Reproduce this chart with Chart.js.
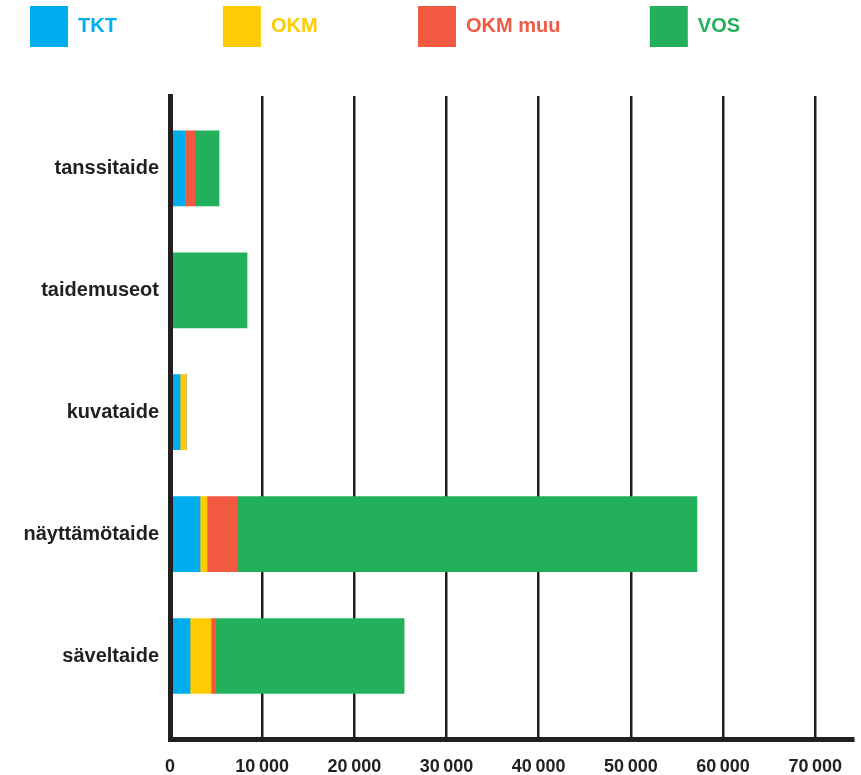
<!DOCTYPE html>
<html>
<head>
<meta charset="utf-8">
<title>Taiteenalat</title>
<script src="https://cdn.jsdelivr.net/npm/chart.js@4.4.1/dist/chart.umd.min.js"></script>
<style>
  body { margin: 0; background: #fff; }
  #wrap { width: 861px; height: 775px; }
</style>
</head>
<body>
<div id="wrap"><canvas id="chart" width="861" height="775"></canvas></div>
<script>
// data
const categories = ['tanssitaide', 'taidemuseot', 'kuvataide', 'näyttämötaide', 'säveltaide'];
const seriesNames = ['TKT', 'OKM', 'OKM muu', 'VOS'];
const tkt    = [1660,    0, 1090,  3260,  2170];
const okm    = [   0,    0,  650,   760,  2280];
const okmMuu = [1050,    0,    0,  3330,   510];
const vos    = [2610, 8360,    0, 49820, 20440];
const xTickValues = [0, 10000, 20000, 30000, 40000, 50000, 60000, 70000];
const xTickLabels = ['0', '10\u2009000', '20\u2009000', '30\u2009000', '40\u2009000', '50\u2009000', '60\u2009000', '70\u2009000'];

const seriesColors = ['#00aeef', '#ffcb05', '#f15a40', '#22b15a'];
const ink = '#231f20';
const fontFamily = 'Liberation Sans, Arial, Helvetica, sans-serif';
const legendStarts = [30, 221, 416, 646];

const seriesValues = [tkt, okm, okmMuu, vos];
const datasets = seriesNames.map((name, i) => ({
  label: name,
  data: seriesValues[i],
  backgroundColor: seriesColors[i],
  borderWidth: 0,
  barThickness: 75,
  xAxisID: 'x',
  yAxisID: 'y'
}));

new Chart(document.getElementById('chart'), {
  type: 'bar',
  data: {
    labels: categories.map((c, i) => i),
    datasets: datasets
  },
  options: {
    indexAxis: 'y',
    responsive: false,
    animation: false,
    layout: { padding: { left: 24, right: 8, top: 0, bottom: 0 } },
    scales: {
      x: {
        type: 'linear',
        position: 'bottom',
        stacked: true,
        bounds: 'data',
        min: 0,
        max: 74100,
        afterBuildTicks: s => { s.ticks = xTickValues.map(v => ({ value: v })); },
        afterFit: s => { s.height = 35.5; },
        grid: { color: ink, lineWidth: 2.5, drawTicks: false },
        border: { color: ink, width: 5 },
        ticks: {
          padding: 17,
          color: ink,
          font: { family: fontFamily, size: 18, weight: 'bold' },
          callback: (v, i) => xTickLabels[i]
        }
      },
      xTop: {
        type: 'linear',
        position: 'top',
        afterFit: s => { s.height = 39; },
        grid: { display: false },
        border: { display: false },
        ticks: { display: false }
      },
      y: {
        type: 'linear',
        position: 'left',
        reverse: true,
        stacked: true,
        offset: false,
        bounds: 'data',
        min: -0.594,
        max: 4.685,
        afterBuildTicks: s => { s.ticks = categories.map((c, i) => ({ value: i })); },
        afterFit: s => { s.width = 146; },
        grid: { display: false, drawTicks: false, offset: false },
        border: { color: ink, width: 5, z: 1 },
        ticks: {
          autoSkip: false,
          padding: 11,
          color: ink,
          font: { family: fontFamily, size: 20, weight: 'bold' },
          callback: v => categories[v]
        }
      }
    },
    plugins: {
      tooltip: { enabled: false },
      legend: {
        position: 'top',
        align: 'start',
        labels: {
          boxWidth: 38,
          boxHeight: 41,
          padding: 6,
          font: { family: fontFamily, size: 20, weight: 'bold' },
          generateLabels(chart) {
            const items = Chart.defaults.plugins.legend.labels.generateLabels(chart);
            const ctx = chart.ctx;
            ctx.save();
            ctx.font = 'bold 20px ' + fontFamily;
            items.forEach((item, i) => {
              item.fontColor = seriesColors[i];
              item.lineWidth = 0;
              // pad the text so each entry starts where it does in the picture
              if (i < items.length - 1) {
                const room = legendStarts[i + 1] - legendStarts[i] - 6 - 38 - 10;
                let text = item.text;
                while (Math.abs(ctx.measureText(text + '\u00a0').width - room) < Math.abs(ctx.measureText(text).width - room)) {
                  text += '\u00a0';
                }
                item.text = text;
              }
            });
            ctx.restore();
            return items;
          }
        }
      }
    }
  }
});
</script>
</body>
</html>
